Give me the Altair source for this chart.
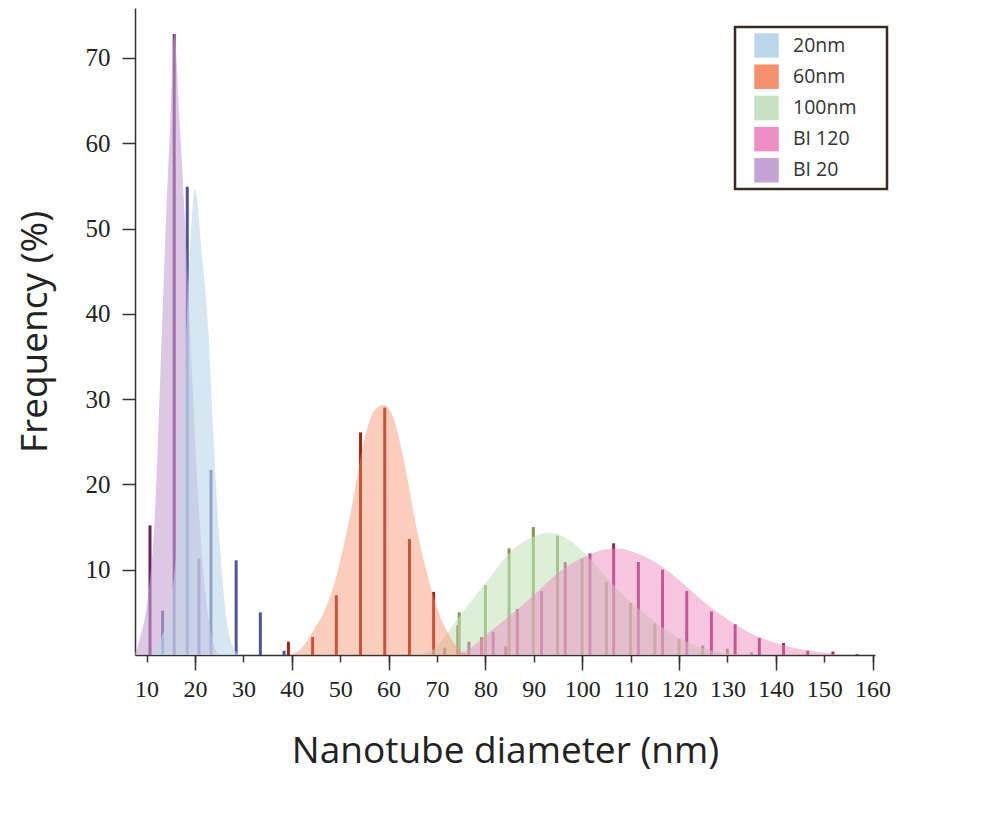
import altair as alt
import pandas as pd

# ---------------- data ----------------
series_names = ["20nm", "60nm", "100nm", "BI 120", "BI 20"]
legend_colors = ["#bcd7ea", "#f7906c", "#c6e2bf", "#ee8ec2", "#c4a4d4"]
bar_colors = ["#4f5598", "#a8200f", "#7c9a48", "#962062", "#6a2262"]

# histogram bars (diameter position, frequency %)
bar_x_20nm = [13.3, 18.4, 23.3, 28.5, 33.5, 38.4]
bar_y_20nm = [5.2, 54.9, 21.7, 11.1, 5.0, 0.5]
bar_x_60nm = [39.3, 44.3, 49.2, 54.2, 59.2, 64.3, 69.3, 74.3, 79.2, 84.2]
bar_y_60nm = [1.56, 2.1, 7.0, 26.1, 29.0, 13.6, 7.4, 3.5, 2.1, 1.0]
bar_x_100nm = [74.6, 80.0, 84.9, 89.9, 94.9, 100.0, 105.0, 110.0, 115.0, 120.0, 124.9, 130.0, 135.0]
bar_y_100nm = [5.0, 8.2, 12.5, 15.0, 14.0, 11.3, 8.6, 6.1, 3.7, 1.9, 1.1, 0.75, 0.3]
bar_x_bi120 = [71.6, 76.6, 81.6, 86.6, 91.6, 96.5, 101.6, 106.5, 111.6, 116.6, 121.6, 126.7,
               131.6, 136.6, 141.6, 146.6, 151.8, 156.8]
bar_y_bi120 = [0.86, 1.56, 2.7, 5.4, 7.5, 10.9, 11.9, 13.1, 10.9, 10.0, 7.5, 5.1,
               3.6, 2.0, 1.4, 0.5, 0.4, 0.1]
bar_x_bi20 = [10.7, 15.7, 20.8]
bar_y_bi20 = [15.2, 72.8, 11.3]

# fitted distribution curves (diameter, frequency %)
curve_x_20nm = [11.0, 13.0, 15.0, 16.5, 18.0, 19.0, 20.0, 21.4, 22.8, 23.7, 24.6, 26.2, 28.0, 29.5]
curve_y_20nm = [0, 2.0, 6.0, 15.0, 35.0, 48.0, 54.6, 47.1, 37.7, 27.0, 17.4, 5.7, 0.8, 0]
curve_x_60nm = [39.5, 42.0, 44.5, 47.0, 49.2, 52.0, 55.5, 57.0, 59.0, 61.0, 63.0, 66.0, 69.3, 72.7, 75.5, 77.0]
curve_y_60nm = [0, 0.8, 2.9, 5.5, 9.2, 16.2, 26.4, 28.6, 29.3, 27.8, 23.2, 14.3, 6.8, 2.1, 0.2, 0]
curve_x_100nm = [66, 68, 70, 72, 75, 80, 85, 90, 93.5, 97, 100, 105, 110, 115, 120, 125, 130, 134]
curve_y_100nm = [0, 0.3, 1.0, 2.5, 4.8, 8.4, 12.0, 13.9, 14.3, 13.6, 12.2, 9.1, 6.2, 3.9, 2.0, 0.8, 0.2, 0]
curve_x_bi120 = [72, 76, 80, 85, 90, 95, 100, 105, 108, 110, 115, 120, 125, 130, 135, 140, 145, 150, 155]
curve_y_bi120 = [0, 0.5, 2.3, 4.6, 7.0, 9.6, 11.4, 12.4, 12.5, 12.2, 10.9, 8.8, 6.3, 4.2, 2.5, 1.4, 0.7, 0.25, 0]
curve_x_bi20 = [7.5, 8.7, 10.0, 11.8, 13.1, 14.0, 14.9, 15.7, 16.8, 17.9, 19.0, 20.5, 22.0, 23.5, 25.0]
curve_y_bi20 = [0, 2.1, 5.7, 17.4, 37.0, 51.0, 62.7, 73.0, 62.7, 51.0, 37.7, 20.0, 8.0, 2.0, 0]

x_ticks = list(range(10, 161, 10))
x_long_ticks = list(range(20, 161, 20))
y_ticks = list(range(10, 71, 10))

# ---------------- tables ----------------
bar_sets = {
    "20nm": (bar_x_20nm, bar_y_20nm),
    "60nm": (bar_x_60nm, bar_y_60nm),
    "100nm": (bar_x_100nm, bar_y_100nm),
    "BI 120": (bar_x_bi120, bar_y_bi120),
    "BI 20": (bar_x_bi20, bar_y_bi20),
}
curve_sets = {
    "20nm": (curve_x_20nm, curve_y_20nm),
    "60nm": (curve_x_60nm, curve_y_60nm),
    "100nm": (curve_x_100nm, curve_y_100nm),
    "BI 120": (curve_x_bi120, curve_y_bi120),
    "BI 20": (curve_x_bi20, curve_y_bi20),
}
bars_df = pd.DataFrame(
    [{"d": x, "f": y, "series": s} for s, (xs, ys) in bar_sets.items() for x, y in zip(xs, ys)]
)
curves_df = pd.DataFrame(
    [{"d": x, "f": y, "series": s} for s, (xs, ys) in curve_sets.items() for x, y in zip(xs, ys)]
)

# ---------------- scales / axes ----------------
x_scale = alt.Scale(domain=[7.6, 160.5], nice=False, zero=False)
y_scale = alt.Scale(domain=[0, 75.85], nice=False)

x_axis = alt.Axis(
    orient="bottom", values=x_ticks, grid=False, title="Nanotube diameter (nm)",
    tickSize=7, tickColor="#333333", tickWidth=1.5, domainColor="#333333", domainWidth=1.5,
    labelFont="Liberation Serif", labelFontSize=24, labelColor="#222222", labelPadding=15,
    labelFlush=False, labelOverlap=False,
    titleFont="Open Sans", titleFontSize=37, titleFontWeight="normal", titleColor="#222222",
    titleX=370, titleY=96, titleBaseline="middle", titleAlign="center",
)
x_axis_long = alt.Axis(
    orient="bottom", values=x_long_ticks, grid=False, title=None, labels=False, domain=False,
    tickSize=15, tickColor="#333333", tickWidth=1.5,
)
y_axis = alt.Axis(
    values=y_ticks, grid=False, title="Frequency (%)",
    tickSize=13, tickColor="#333333", tickWidth=1.5, domainColor="#333333", domainWidth=1.5,
    labelFont="Liberation Serif", labelFontSize=25, labelColor="#222222", labelPadding=12,
    titleFont="Open Sans", titleFontSize=37, titleFontWeight="normal", titleColor="#222222",
    titleAngle=270, titleX=-100, titleY=323.5, titleBaseline="middle", titleAlign="center",
)

legend = alt.Legend(
    title="\u00a0", titleOrient="right", titlePadding=25, titleFontSize=10,
    orient="none", legendX=600, legendY=19,
    symbolType="square", symbolSize=600, symbolOpacity=1, symbolStrokeWidth=0,
    symbolOffset=13, labelOffset=14,
    labelFont="Open Sans", labelFontSize=19.5, labelColor="#333333",
    rowPadding=6.2, padding=6,
    strokeColor="#3a2c24", fillColor="#ffffff",
)

fill_enc = alt.Fill("series:N", scale=alt.Scale(domain=series_names, range=legend_colors),
                    legend=legend)

# bar colour scale with its own (reversed) domain so it does not merge with the legend
bar_domain = series_names[::-1]
bar_range = bar_colors[::-1]

bars = alt.Chart(bars_df).mark_rule(strokeWidth=3).encode(
    x=alt.X("d:Q", scale=x_scale, axis=x_axis),
    y=alt.Y("f:Q", scale=y_scale, axis=y_axis),
    y2=alt.datum(0),
    stroke=alt.Stroke("series:N", scale=alt.Scale(domain=bar_domain, range=bar_range), legend=None),
)

area_order = ["100nm", "BI 120", "60nm", "BI 20", "20nm"]
area_opacity = {"100nm": 0.6, "BI 120": 0.5, "60nm": 0.45, "BI 20": 0.6, "20nm": 0.6}
areas = []
for i, s in enumerate(area_order):
    areas.append(
        alt.Chart(curves_df).transform_filter(alt.datum.series == s)
        .mark_area(opacity=area_opacity[s], interpolate="monotone")
        .encode(
            x=alt.X("d:Q", scale=x_scale, axis=x_axis_long if i == 0 else None),
            y=alt.Y("f:Q", scale=y_scale, axis=y_axis),
            fill=fill_enc,
        )
    )

chart = alt.layer(bars, *areas).resolve_axis(x="independent").properties(
    width=740, height=647,
    autosize=alt.AutoSizeParams(type="none"),
    padding={"left": 127, "top": 0, "right": 40, "bottom": 140},
    background="#ffffff",
).configure_view(stroke=None).configure_legend(strokeWidth=2.5)

chart.save("out.html", embed_options={"renderer": "svg", "actions": False})
